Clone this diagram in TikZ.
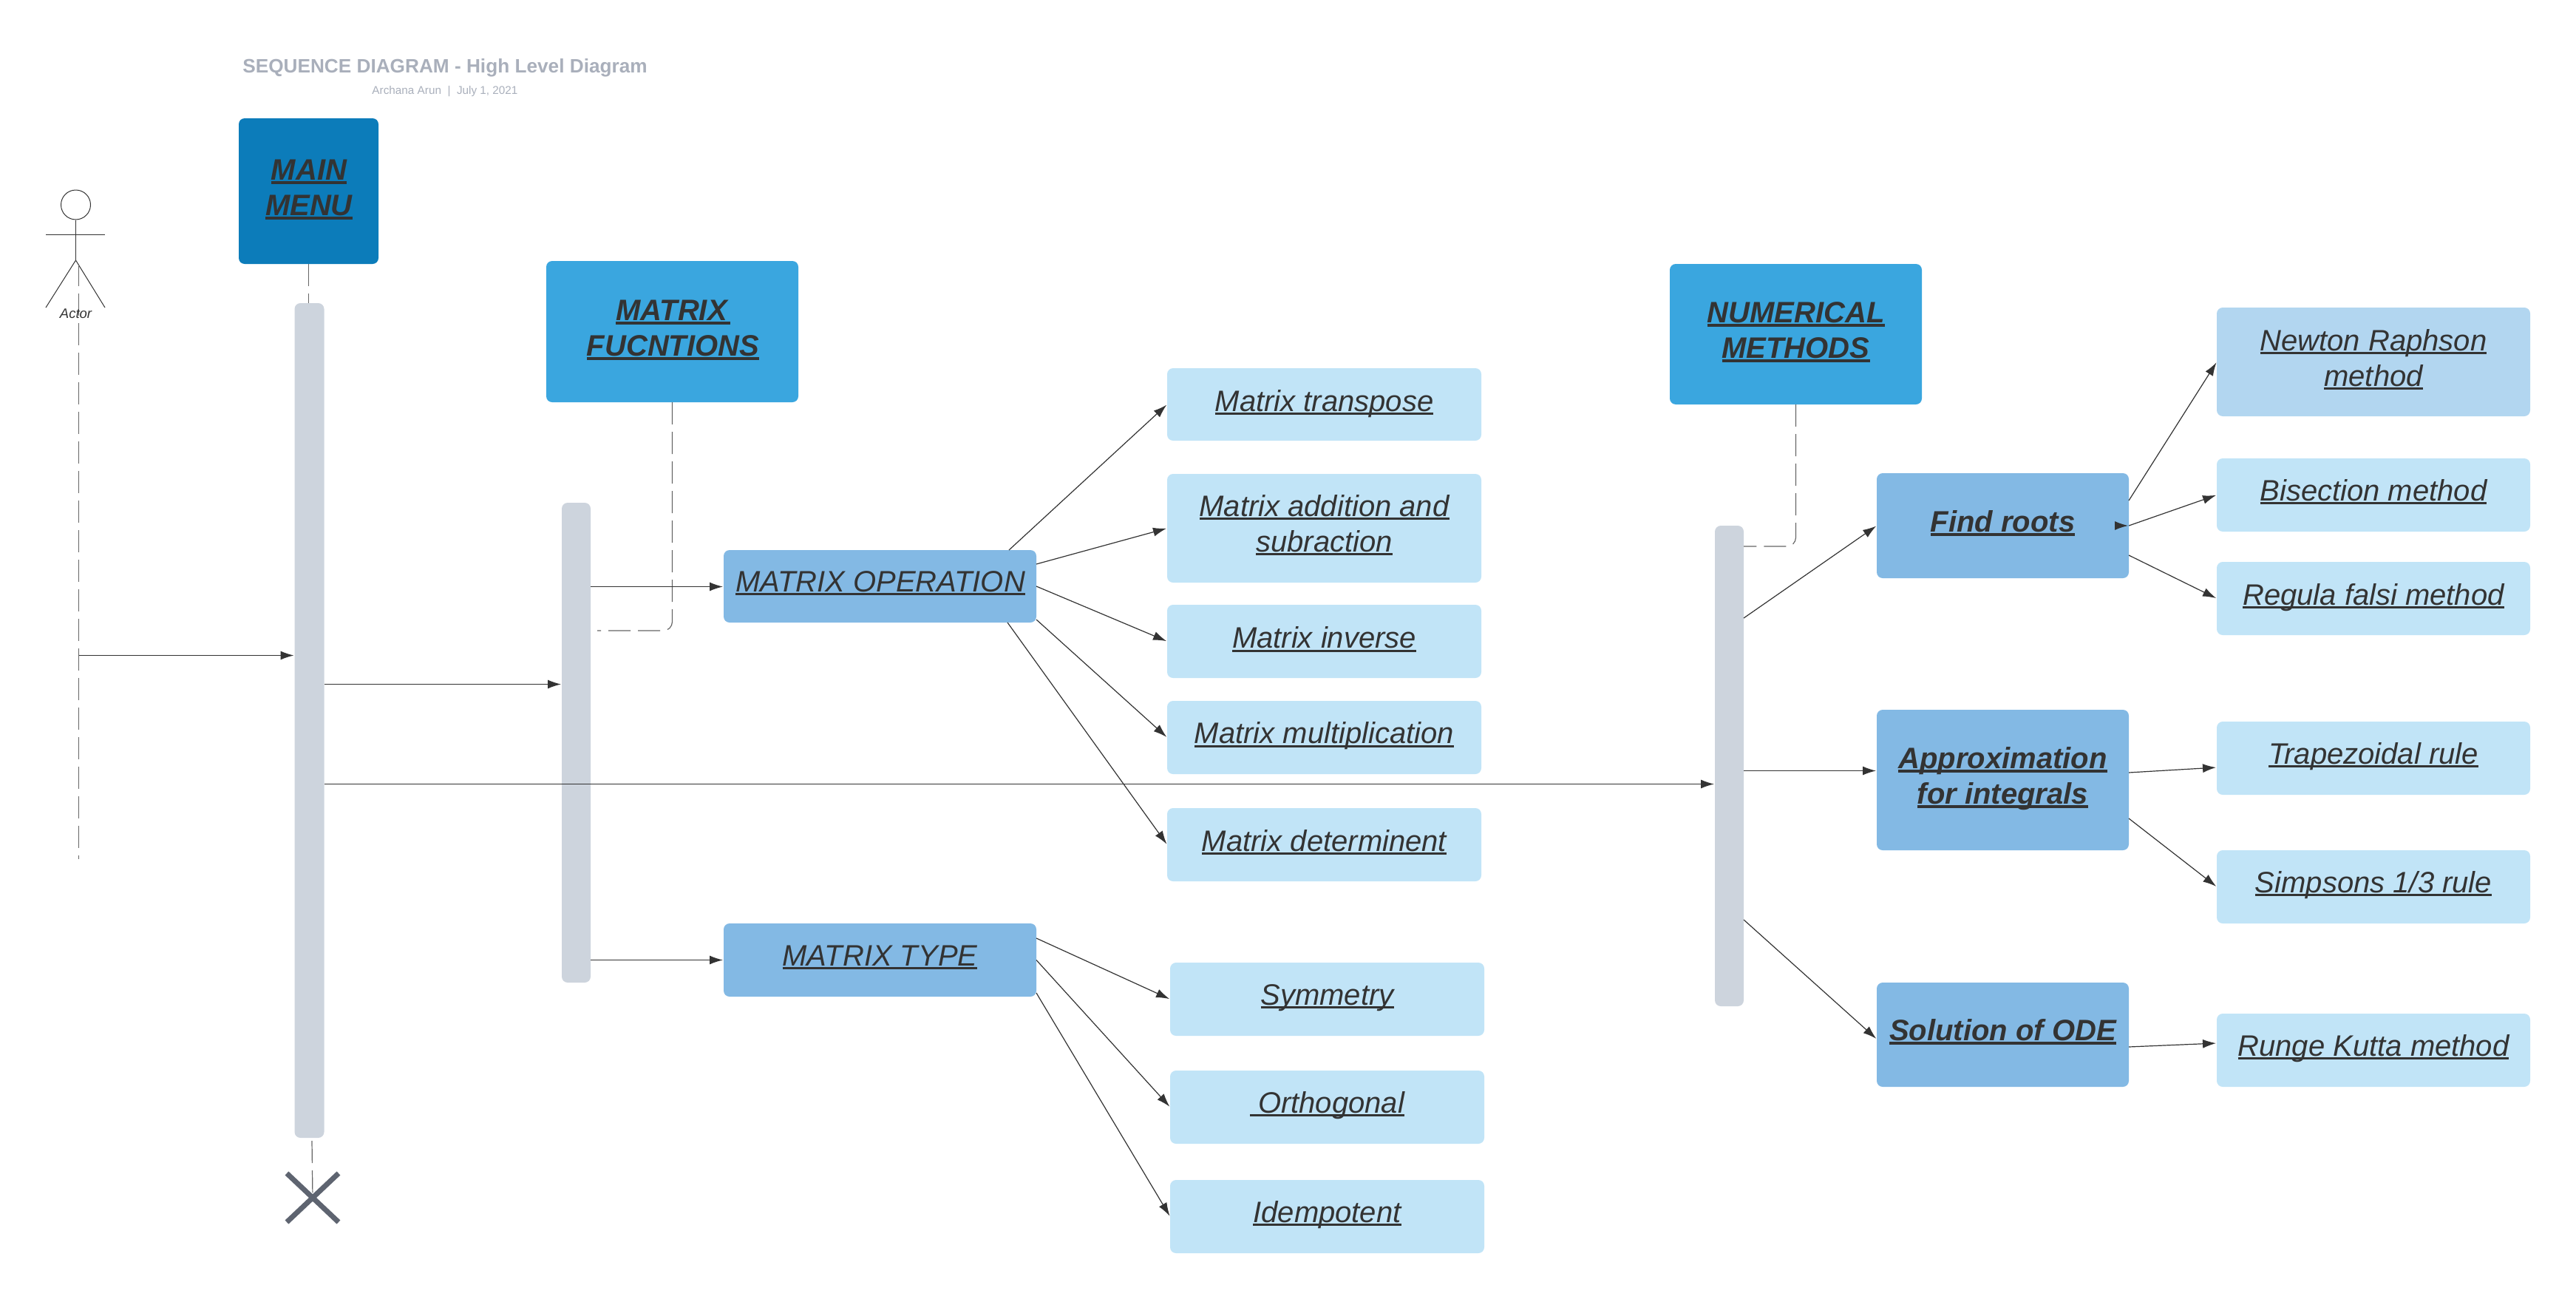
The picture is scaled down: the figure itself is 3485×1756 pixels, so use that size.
\documentclass[tikz,border=0pt]{standalone}
\usepackage{fontspec}
\setmainfont{Liberation Sans}
\usetikzlibrary{arrows.meta,calc}
\definecolor{cmain}{HTML}{0C7CBA}
\definecolor{chead}{HTML}{3AA6DF}
\definecolor{cmid}{HTML}{83B9E4}
\definecolor{clight}{HTML}{C1E4F7}
\definecolor{cnewton}{HTML}{B2D6F0}
\definecolor{cbar}{HTML}{CDD4DD}
\definecolor{cink}{HTML}{333333}
\definecolor{ccross}{HTML}{5E6470}
\definecolor{ctitle}{HTML}{A9AFBB}
\definecolor{cdash}{HTML}{666666}
\newcommand\ulr[1]{\setbox0\hbox{#1}\rlap{\rule[-5pt]{\wd0}{2.8pt}}\box0\rule{0pt}{36pt}\rule[-12pt]{0pt}{12pt}}
\newcommand\ulb[1]{\setbox0\hbox{#1}\rlap{\rule[-5.5pt]{\wd0}{3.6pt}}\box0\rule{0pt}{36pt}\rule[-12pt]{0pt}{12pt}}
\newcommand\pbox[6]{%
  \pgfmathsetmacro\pw{#5-#3}\pgfmathsetmacro\ph{#6-#4}%
  \pgfmathsetmacro\pcx{(#5+#3)/2}\pgfmathsetmacro\pcy{(#6+#4)/2}%
  \node[#1,minimum width=\pw pt,minimum height=\ph pt] (#2) at (\pcx,\pcy) {};}
\tikzset{
  panel/.style={draw=none,rectangle,rounded corners=8pt,inner sep=0pt,outer sep=0pt},
  bmain/.style={panel,fill=cmain},
  bhead/.style={panel,fill=chead},
  bmid/.style={panel,fill=cmid},
  blight/.style={panel,fill=clight},
  bnewton/.style={panel,fill=cnewton},
  bbar/.style={panel,fill=cbar},
  lblr/.style={inner sep=0pt,align=center,text=cink,font=\fontsize{40}{48}\selectfont\itshape},
  lblb/.style={inner sep=0pt,align=center,text=cink,font=\fontsize{40}{48}\selectfont\itshape\bfseries},
  msg/.style={draw=cink,line width=1.2pt,-{Latex[length=18pt,width=12pt]},shorten >=1pt},
  life/.style={draw=cdash,line width=1.2pt,dash pattern=on 30pt off 10pt},
  stick/.style={draw=cink,line width=1pt},
}
\begin{document}
\begin{tikzpicture}[x=1pt,y=-1pt]
\useasboundingbox (0,0) rectangle (3485,1756);
% title
\node[font=\fontsize{26.2}{32}\selectfont\bfseries,text=ctitle,inner sep=0pt] (title) at (602,91.5) {SEQUENCE DIAGRAM - High Level Diagram};
\node[font=\fontsize{15.3}{20}\selectfont,text=ctitle,inner sep=0pt] (sub) at (602,124) {Archana Arun\ \ |\ \ July 1, 2021};
% actor
\node[circle,draw=cink,line width=1pt,minimum size=40pt,inner sep=0pt] (head) at (102.5,277) {};
\coordinate (hip) at (102.5,352);
\coordinate (armL) at (62,317);
\coordinate (armR) at (142,317);
\coordinate (legL) at (62,416);
\coordinate (legR) at (142,416);
\draw[stick] (head.south) -- (hip);
\draw[stick] (armL) -- (armR);
\draw[stick] (legL) -- (hip) -- (legR);
\coordinate (lifeA) at (106.6,357);
\coordinate (lifeB) at (106.6,1162);
\draw[life] (lifeA) -- (lifeB);
\node[font=\fontsize{18.5}{22}\selectfont\itshape,text=cink,inner sep=1pt] (actor) at (102.5,424) {Actor};
% bars
\pbox{bbar}{bar1}{398.5}{410}{438.5}{1539}
\pbox{bbar}{bar2}{760}{680}{799}{1329}
\pbox{bbar}{bar3}{2320}{711}{2359}{1361}
% headers
\pbox{bmain}{mainmenu}{323}{160}{512}{357}
\pbox{bhead}{mfunc}{739}{353}{1080}{544}
\pbox{bhead}{nummeth}{2259}{357}{2600}{547}
% mid
\pbox{bmid}{op}{979}{744}{1402}{842}
\pbox{bmid}{mtype}{979}{1249}{1402}{1348}
\pbox{bmid}{roots}{2539}{640}{2880}{782}
\pbox{bmid}{approx}{2539}{960}{2880}{1150}
\pbox{bmid}{ode}{2539}{1329}{2880}{1470}
% leaves
\pbox{blight}{tr}{1579}{498}{2004}{596}
\pbox{blight}{add}{1579}{641}{2004}{788}
\pbox{blight}{inv}{1579}{818}{2004}{917}
\pbox{blight}{mul}{1579}{948}{2004}{1047}
\pbox{blight}{det}{1579}{1093}{2004}{1192}
\pbox{blight}{sym}{1583}{1302}{2008}{1401}
\pbox{blight}{ort}{1583}{1448}{2008}{1547}
\pbox{blight}{ide}{1583}{1596}{2008}{1695}
\pbox{bnewton}{newton}{2999}{416}{3423}{563}
\pbox{blight}{bis}{2999}{620}{3423}{719}
\pbox{blight}{reg}{2999}{760}{3423}{859}
\pbox{blight}{trap}{2999}{976}{3423}{1075}
\pbox{blight}{simp}{2999}{1150}{3423}{1249}
\pbox{blight}{runge}{2999}{1371}{3423}{1470}
% labels: centre = first baseline + 12 for two lines, baseline - 12 for one line
\node[lblb] (tmain) at (418,255) {\ulb{MAIN}\\\ulb{MENU}};
\node[lblb] (tfunc) at (910.5,445.5) {\ulb{MATRIX\kern4pt}\\\ulb{FUCNTIONS}};
\node[lblb] (tnum) at (2429.5,448) {\ulb{NUMERICAL}\\\ulb{METHODS}};
\node[lblr] (top) at (1191,788) {\ulr{MATRIX OPERATION}};
\node[lblr] (ttype) at (1190.5,1294) {\ulr{MATRIX TYPE}};
\node[lblb] (troots) at (2709.5,707) {\ulb{Find roots}};
\node[lblb] (tapprox) at (2709.5,1051) {\ulb{Approximation}\\\ulb{for integrals}};
\node[lblb] (tode) at (2709.5,1395) {\ulb{Solution of ODE}};
\node[lblr] (ttr) at (1791.5,544) {\ulr{Matrix transpose}};
\node[lblr] (tadd) at (1791.5,710) {\ulr{Matrix addition and}\\\ulr{subraction}};
\node[lblr] (tinv) at (1791.5,864.5) {\ulr{Matrix inverse}};
\node[lblr] (tmul) at (1791.5,993.5) {\ulr{Matrix multiplication}};
\node[lblr] (tdet) at (1791.5,1139) {\ulr{Matrix determinent}};
\node[lblr] (tsym) at (1795.5,1347) {\ulr{Symmetry}};
\node[lblr] (tort) at (1795.5,1493) {\ulr{\ Orthogonal}};
\node[lblr] (tide) at (1795.5,1641) {\ulr{Idempotent}};
\node[lblr] (tnew) at (3211,486) {\ulr{Newton Raphson}\\\ulr{method}};
\node[lblr] (tbis) at (3211,665) {\ulr{Bisection method}};
\node[lblr] (treg) at (3211,806) {\ulr{Regula falsi method}};
\node[lblr] (ttrap) at (3211,1021) {\ulr{Trapezoidal rule}};
\node[lblr] (tsimp) at (3211,1195) {\ulr{Simpsons 1/3 rule}};
\node[lblr] (trun) at (3211,1416) {\ulr{Runge Kutta method}};
% lifelines to headers
\draw[life] (mainmenu.south) -- (mainmenu.south |- bar1.north);
\draw[life,rounded corners=12pt] (mfunc.south) |- ([xshift=9pt,yshift=-173pt]bar2.north east);
\draw[life,rounded corners=12pt] (nummeth.south) |- ([yshift=-28pt]bar3.north east);
% end cross
\coordinate (xc) at (423,1620);
\coordinate (xa) at (388,1587);
\coordinate (xb) at (458,1653);
\coordinate (xd) at (388,1653);
\coordinate (xe) at (458,1587);
\coordinate (bar1end) at (422,1543);
\draw[life] (bar1end) -- (xc);
\draw[ccross,line width=7pt] (xa) -- (xb) (xd) -- (xe);
% messages
\coordinate (lifeMsg) at (106.6,886.5);
\draw[msg] (lifeMsg) -- (lifeMsg -| bar1.west);
\draw[msg] ([yshift=-515.5pt]bar1.north east) -- ([yshift=-515.5pt]bar1.north east -| bar2.west);
\draw[msg] ([yshift=-650.5pt]bar1.north east) -- ([yshift=-650.5pt]bar1.north east -| bar3.west);
\draw[msg] ([yshift=-.5pt]op.west -| bar2.east) -- ([yshift=-.5pt]op.west);
\draw[msg] (mtype.west -| bar2.east) -- (mtype.west);
% matrix operation
\draw[msg] ([xshift=-37pt]op.north east) -- (tr.west);
\draw[msg] ([yshift=-19pt]op.north east) -- (add.west);
\draw[msg] (op.east) -- (inv.west);
\draw[msg] ([yshift=4pt]op.south east) -- (mul.west);
\draw[msg] ([xshift=-39pt]op.south east) -- (det.west);
% matrix type
\draw[msg] ([yshift=-20pt]mtype.north east) -- (sym.west);
\draw[msg] (mtype.east) -- (ort.west);
\draw[msg] ([yshift=5pt]mtype.south east) -- (ide.west);
% numerical
\draw[msg] ([yshift=-125pt]bar3.north east) -- (roots.west);
\draw[msg] ([yshift=-331.5pt]bar3.north east) -- ([yshift=-331.5pt]bar3.north east -| approx.west);
\draw[msg] ([yshift=-533pt]bar3.north east) -- ([yshift=-6pt]ode.west);
\draw[msg] ([yshift=-37pt]roots.north east) -- (newton.west);
\draw[msg] (roots.east) -- (bis.west);
\draw[msg] ([xshift=-17pt]roots.east) -- (roots.east);
\draw[msg] ([yshift=-111pt]roots.north east) -- (reg.west);
\draw[msg] ([yshift=-85pt]approx.north east) -- ([yshift=-12.5pt]trap.west);
\draw[msg] ([yshift=-147pt]approx.north east) -- (simp.west);
\draw[msg] ([yshift=-16.5pt]ode.east) -- ([yshift=9.5pt]runge.west);
\end{tikzpicture}
\end{document}
